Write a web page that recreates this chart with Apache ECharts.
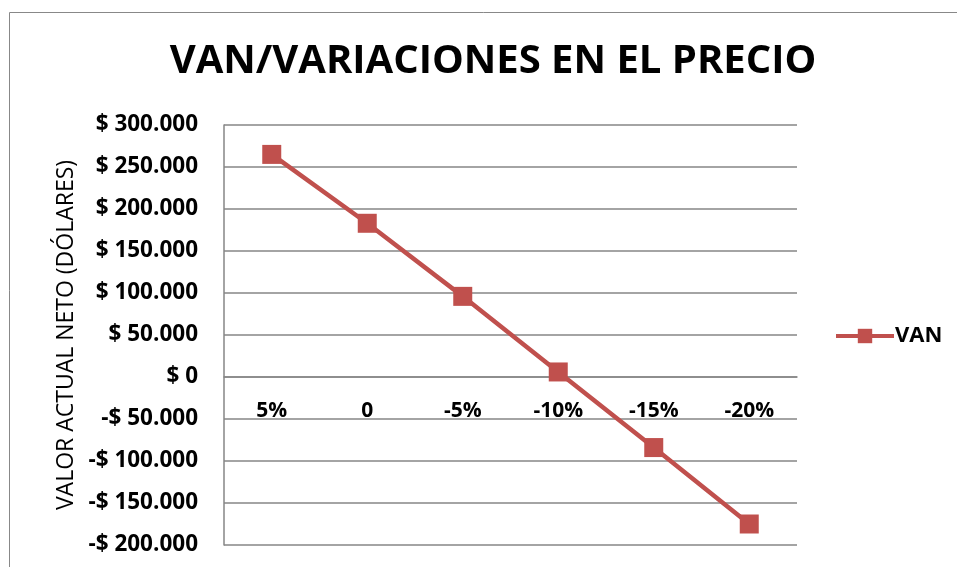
<!DOCTYPE html>
<html>
<head>
<meta charset="utf-8">
<script src="https://cdn.jsdelivr.net/npm/echarts@6/dist/echarts.min.js"></script>
<style>
  html, body { margin: 0; padding: 0; background: #fff; }
  #chart { width: 957px; height: 567px; }
</style>
</head>
<body>
<div id="chart"></div>
<script>
// data
const categories = ['5%', '0', '-5%', '-10%', '-15%', '-20%']
const vanValues = [265000, 183000, 96000, 6000, -84000, -175000]
const yMin = -200000
const yMax = 300000
const yStep = 50000

function money(v) {
  let s = Math.abs(v).toString().replace(/\B(?=(\d{3})+(?!\d))/g, '.')
  return (v < 0 ? '-$ ' : '$ ') + s
}

const font = '"Open Sans", "Noto Sans", sans-serif'
const red = '#C0504D'
const gray = '#868686'

// plot box
const gridTop = 125
const gridBottom = 22
const plotH = 567 - gridTop - gridBottom
// category axis sits on the zero line
const zeroOffset = -plotH * (0 - yMin) / (yMax - yMin)

let myChart = echarts.init(document.getElementById('chart'))
let option = {
  backgroundColor: '#fff',
  animation: false,
  title: {
    text: 'VAN/VARIACIONES EN EL PRECIO',
    left: 488,
    textAlign: 'center',
    top: 37,
    textStyle: {
      fontFamily: font,
      fontWeight: 'bold',
      fontSize: 40,
      color: '#000'
    }
  },
  legend: {
    data: ['VAN'],
    left: 829,
    top: 320,
    itemWidth: 58,
    itemHeight: 18,
    itemGap: 2,
    lineStyle: { width: 4 },
    textStyle: {
      fontFamily: font,
      fontWeight: 'bold',
      fontSize: 22,
      color: '#000',
      padding: [0, 0, 0, -4]
    }
  },
  grid: {
    left: 224,
    right: 160,
    top: gridTop,
    bottom: gridBottom,
    outerBoundsMode: 'none',
    containLabel: false
  },
  graphic: [{
    type: 'rect',
    shape: { x: 9.5, y: 12.5, width: 1000, height: 600 },
    style: { fill: 'none', stroke: '#888', lineWidth: 1 },
    silent: true
  }],
  xAxis: {
    type: 'category',
    data: categories,
    boundaryGap: true,
    offset: zeroOffset,
    axisLine: { onZero: false, lineStyle: { color: gray, width: 1.5 } },
    axisTick: { show: false },
    axisLabel: {
      margin: 24,
      fontFamily: font,
      fontWeight: 'bold',
      fontSize: 21,
      color: '#000'
    }
  },
  yAxis: {
    type: 'value',
    min: yMin,
    max: yMax,
    interval: yStep,
    name: 'VALOR ACTUAL NETO (DÓLARES)',
    nameLocation: 'middle',
    nameGap: 146,
    nameTextStyle: {
      fontFamily: font,
      fontSize: 23,
      color: '#000'
    },
    axisLine: { show: true, lineStyle: { color: gray, width: 1.5 } },
    axisTick: { show: false },
    splitLine: { show: true, lineStyle: { color: gray, width: 1.5 } },
    axisLabel: {
      margin: 26,
      fontFamily: font,
      fontWeight: 'bold',
      fontSize: 22.5,
      color: '#000',
      formatter: money
    }
  },
  series: [{
    name: 'VAN',
    type: 'line',
    data: vanValues,
    symbol: 'rect',
    symbolSize: 19,
    lineStyle: { color: red, width: 4.5 },
    itemStyle: { color: red },
    emphasis: { disabled: true }
  }]
}
myChart.setOption(option)
</script>
</body>
</html>
